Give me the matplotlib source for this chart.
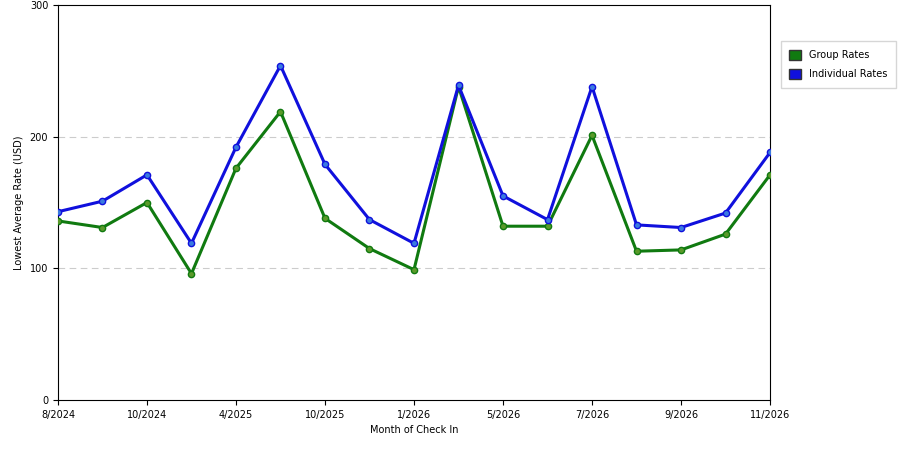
import matplotlib
matplotlib.use("Agg")
import matplotlib.pyplot as plt

months = ["8/2024", "9/2024", "10/2024", "11/2024", "4/2025", "5/2025", "10/2025", "11/2025",
          "1/2026", "3/2026", "5/2026", "6/2026", "7/2026", "8/2026", "9/2026", "10/2026", "11/2026"]
group_rates = [136, 131, 150, 96, 176, 219, 138, 115, 99, 238, 132, 132, 201, 113, 114, 126, 171]
indiv_rates = [143, 151, 171, 119, 192, 254, 179, 137, 119, 239, 155, 137, 238, 133, 131, 142, 188]
shown_ticks = ["8/2024", "10/2024", "4/2025", "10/2025", "1/2026", "5/2026", "7/2026", "9/2026", "11/2026"]

fig = plt.figure(figsize=(9, 4.5), dpi=100)
ax = fig.add_axes([0.0644, 0.111, 0.7912, 0.878])
x = list(range(len(months)))

ax.plot(x, group_rates, color="#107a10", lw=2.2, marker="o", ms=4.5,
        mfc="#5a9a2a", mec="#107a10", label="Group Rates", zorder=3)
ax.plot(x, indiv_rates, color="#1010dd", lw=2.2, marker="o", ms=4.5,
        mfc="#3a7ae0", mec="#1010dd", label="Individual Rates", zorder=3)

ax.set_xlim(0, len(months) - 1)
ax.set_ylim(0, 300)
ticks = [months.index(m) for m in shown_ticks]
ax.set_xticks(ticks)
ax.set_xticklabels(shown_ticks, fontsize=7)
ax.set_yticks([0, 100, 200, 300])
ax.tick_params(axis="y", labelsize=7)
for y in [100, 200]:
    ax.axhline(y, color="#cccccc", lw=0.8, ls=(0, (6, 4)), zorder=1)
ax.set_xlabel("Month of Check In", fontsize=7)
ax.set_ylabel("Lowest Average Rate (USD)", fontsize=7)

handles = [plt.Rectangle((0, 0), 1, 1, fc="#107a10", ec="#333333"),
           plt.Rectangle((0, 0), 1, 1, fc="#1010dd", ec="#333333")]
fig.legend(handles, ["Group Rates", "Individual Rates"], loc="upper left",
           bbox_to_anchor=(0.862, 0.92), fontsize=7, frameon=True,
           fancybox=False, edgecolor="#cccccc", handlelength=1.2, handleheight=1.2,
           labelspacing=0.9, borderpad=0.9)

fig.savefig("out.png", dpi=100)
